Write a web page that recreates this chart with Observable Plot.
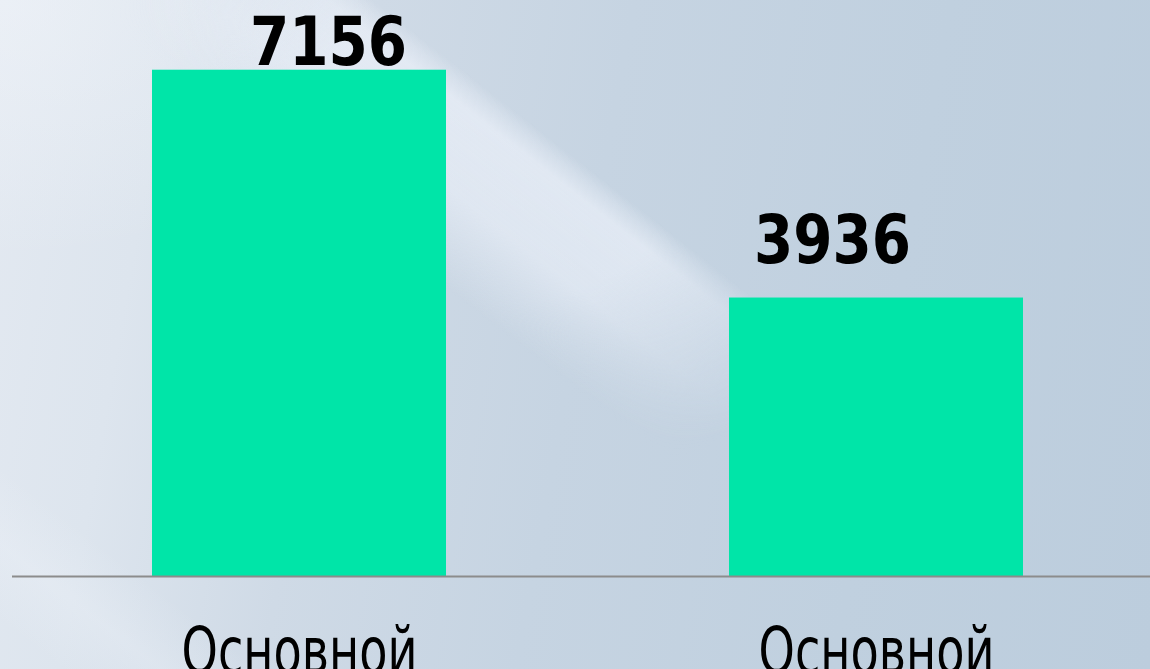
<!DOCTYPE html>
<html>
<head>
<meta charset="utf-8">
<script src="https://cdn.jsdelivr.net/npm/d3@7"></script>
<script src="https://cdn.jsdelivr.net/npm/@observablehq/plot@0.6"></script>
<style>
  html, body { margin: 0; padding: 0; overflow: hidden; width: 1150px; height: 669px; }
  body { position: relative; }
  #bg {
    position: absolute; left: 0; top: 0; width: 1150px; height: 669px;
    background:
      radial-gradient(ellipse 380px 260px at 0px 0px, rgba(245,248,252,0.45), rgba(245,248,252,0)),
      linear-gradient(38deg, rgba(255,255,255,0) 3%, rgba(240,244,250,0.28) 8%, rgba(255,255,255,0) 13%),
      linear-gradient(100deg, #e3e9f1 0%, #dde5ee 14%, #cfdae6 30%, #c6d4e2 50%, #c0d0df 75%, #bccddd 100%);
  }
  #streak {
    position: absolute; left: 0; top: 0; width: 1150px; height: 669px;
    background: linear-gradient(38deg, rgba(240,244,252,0) 46.5%, rgba(240,244,252,0.55) 53%, rgba(240,244,252,0.62) 59%, rgba(240,244,252,0.3) 60.3%, rgba(240,244,252,0) 61.3%);
    -webkit-mask-image: radial-gradient(ellipse 430px 340px at 500px 150px, #000 45%, rgba(0,0,0,0) 100%);
    mask-image: radial-gradient(ellipse 430px 340px at 500px 150px, #000 45%, rgba(0,0,0,0) 100%);
  }
  #chart { position: absolute; left: 0; top: 0; }
  #chart svg { display: block; }
</style>
</head>
<body>
<div id="bg"></div>
<div id="streak"></div>
<div id="chart"></div>
<script>
// ---- data ----
const categories = ["Основной", "Основной"];
const values = [7156, 3936];
const yDomain = [0, 8000];

const data = categories.map((c, i) => ({ i, category: c, value: values[i] }));

const chart = Plot.plot({
  width: 1150,
  height: 669,
  marginTop: 10,
  marginBottom: 93,
  marginLeft: 12,
  marginRight: 0,
  style: { background: "transparent", overflow: "hidden", fontFamily: "DejaVu Sans", color: "black" },
  x: { type: "band", domain: data.map(d => d.i), range: [8, 1168], paddingInner: 0.49, paddingOuter: 0.25, axis: null },
  y: { domain: yDomain, axis: null },
  marks: [
    Plot.barY(data, { x: "i", y: "value", fill: "#00e5a8" }),
    Plot.ruleY([0], { stroke: "#8c8c8c", strokeWidth: 2 }),
    Plot.text([data[0]], {
      x: "i", y: "value", text: d => String(d.value),
      dx: 29, dy: -5, lineAnchor: "bottom",
      fontSize: 68, fontWeight: "bold", fill: "black"
    }),
    Plot.text([data[1]], {
      x: "i", y: "value", text: d => String(d.value),
      dx: -44, dy: -35, lineAnchor: "bottom",
      fontSize: 68, fontWeight: "bold", fill: "black"
    }),
    Plot.text(data, {
      x: "i", text: "category", frameAnchor: "bottom",
      dy: 96, lineAnchor: "bottom",
      fontSize: 64, fill: "black"
    })
  ]
});

document.getElementById("chart").appendChild(chart);

// condense the glyphs horizontally like the original typeface
d3.select(chart).selectAll("text").each(function () {
  const t = this.textContent;
  const len = this.getComputedTextLength();
  if (/^\d+$/.test(t)) {
    this.setAttribute("textLength", len * 0.83);
  } else {
    this.setAttribute("textLength", 236);
  }
  this.setAttribute("lengthAdjust", "spacingAndGlyphs");
});
</script>
</body>
</html>
